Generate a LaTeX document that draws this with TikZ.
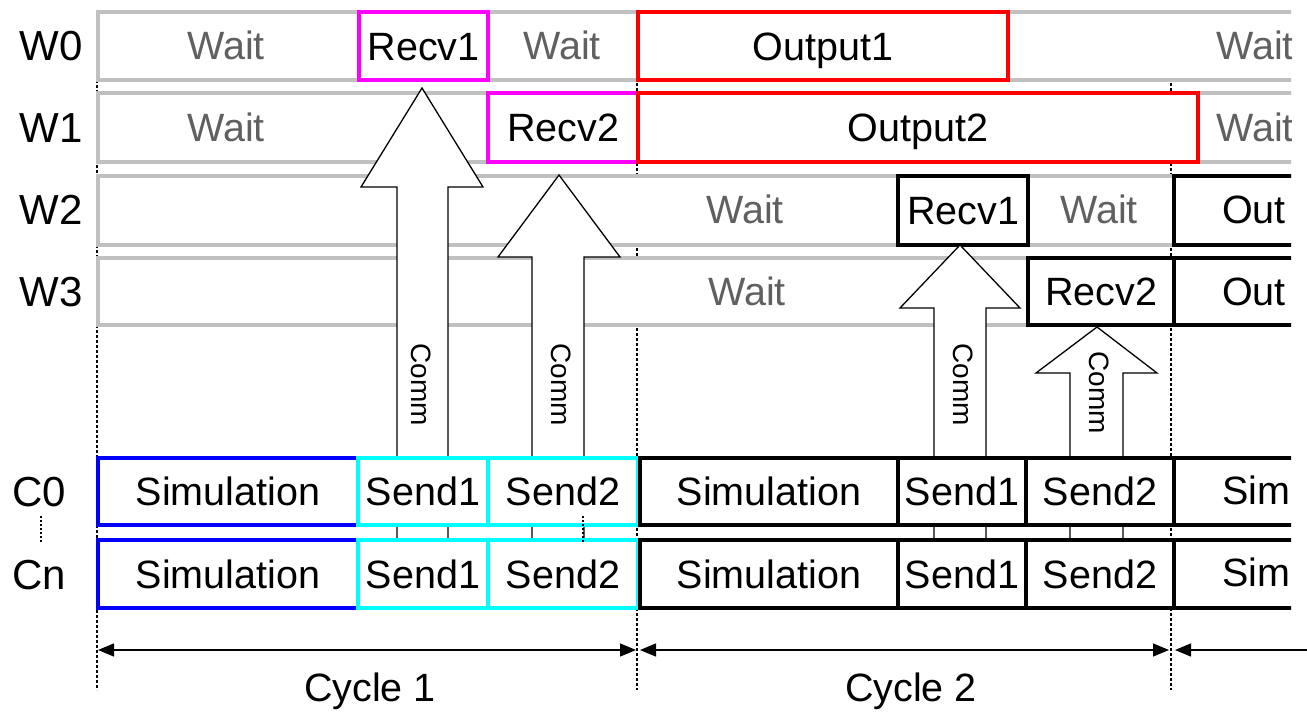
\documentclass[tikz,border=0pt]{standalone}
\usepackage{fontspec}
\setmainfont{Liberation Sans}
\usetikzlibrary{arrows.meta}
\definecolor{rowgray}{HTML}{C0C0C0}
\definecolor{waitgray}{HTML}{606060}
\definecolor{mag}{HTML}{FF00FF}
\definecolor{redc}{HTML}{FF0000}
\definecolor{bluec}{HTML}{0000FF}
\definecolor{cyanc}{HTML}{00FFFF}
\newcommand{\tlbox}[7]{\node[box,#2,minimum width={#5pt-#3pt},minimum height={#6pt-#4pt}] (#1) at (#3,#4) {#7};}
\tikzset{
  txt/.style={font=\fontsize{39.5}{42}\selectfont, text height=28.3pt, text depth=0pt},
  box/.style={draw, line width=4pt, fill=white, inner sep=0pt, anchor=north west, txt},
  rowbox/.style={draw=rowgray},
  recvbox/.style={draw=mag},
  outbox/.style={draw=redc},
  simbox/.style={draw=bluec},
  sendbox/.style={draw=cyanc},
  blkbox/.style={draw=black},
  wt/.style={text=waitgray, txt, inner sep=0pt},
  cut/.style={anchor=west, inner sep=0pt, txt},
  lbl/.style={font=\fontsize{42}{44}\selectfont, text height=30pt, text depth=0pt, inner sep=0pt},
  cyc/.style={txt, inner sep=0pt},
  comm/.style={font=\fontsize{28}{30}\selectfont, text height=20pt, text depth=0pt, rotate=-90, inner sep=0pt},
  blockarrow/.style={draw=black, fill=white, line width=1.3pt, line join=miter},
  vdot/.style={draw=black, line width=2.5pt, dash pattern=on 2.5pt off 2.5pt},
  sdot/.style={draw=black, line width=1.5pt, dash pattern=on 2pt off 2pt},
  dimarrow/.style={draw=black, line width=1.3pt, {Triangle[length=16pt,width=13pt]}-{Triangle[length=16pt,width=13pt]}},
  leftarrow/.style={draw=black, line width=1.3pt, {Triangle[length=16pt,width=13pt]}-},
}
\begin{document}
\begin{tikzpicture}[x=1pt,y=-1pt]
\useasboundingbox (0,0) rectangle (1307,712);
% dotted cycle boundaries
\coordinate (d0t) at (97,10);   \coordinate (d0b) at (97,690);
\coordinate (d1t) at (637,78);  \coordinate (d1b) at (637,690);
\coordinate (d2t) at (1171,78); \coordinate (d2b) at (1171,690);
\draw[vdot] (d0t) -- (d0b);
\draw[vdot] (d1t) -- (d1b);
\draw[vdot] (d2t) -- (d2b);
% small dotted marks
\coordinate (m0t) at (41,516); \coordinate (m0b) at (41,543);
\coordinate (m1t) at (583,516); \coordinate (m1b) at (583,543);
\draw[sdot] (m0t) -- (m0b);

\begin{scope}
\clip (0,0) rectangle (1291,712);
% worker rows
\tlbox{w0row}{rowbox}{96}{10}{1320}{78}{}
\tlbox{w1row}{rowbox}{96}{91}{1320}{160}{}
\tlbox{w2row}{rowbox}{96}{174}{1320}{243}{}
\tlbox{w3row}{rowbox}{96}{256}{1320}{323}{}
\node[wt] (w0a) at (226,45) {Wait};
\node[wt] (w0b) at (562,45) {Wait};
\node[wt] (w0c) at (1255,45) {Wait};
\node[wt] (w1a) at (226,127) {Wait};
\node[wt] (w1b) at (1255,127) {Wait};
\node[wt] (w2a) at (745,209) {Wait};
\node[wt] (w2b) at (1099,209) {Wait};
\node[wt] (w3a) at (747,291) {Wait};
% colored worker boxes
\tlbox{recvA}{recvbox}{357}{10}{486}{78}{Recv1}
\tlbox{recvB}{recvbox}{486}{91}{636}{160}{Recv2}
\tlbox{outA}{outbox}{636}{10}{1006}{78}{Output1}
\tlbox{outB}{outbox}{636}{91}{1196}{160}{Output2}
\tlbox{recvC}{blkbox}{896}{174}{1026}{243}{Recv1}
\tlbox{outC}{blkbox}{1172}{174}{1330}{243}{}
\tlbox{recvD}{blkbox}{1026}{256}{1172}{323}{Recv2}
\tlbox{outD}{blkbox}{1172}{256}{1330}{323}{}
\node[cut] (outCt) at (1222,209) {Out};
\node[cut] (outDt) at (1222,291) {Out};
\end{scope}

% block arrows (Comm)
\draw[blockarrow] (397,548) -- (397,187) -- (361,187) -- (422,88) -- (483,187) -- (448,187) -- (448,548) -- cycle;
\draw[blockarrow] (532,548) -- (532,257) -- (498,257) -- (559,175) -- (620,257) -- (584,257) -- (584,548) -- cycle;
\draw[blockarrow] (934,548) -- (934,308) -- (900,308) -- (960,245) -- (1020,308) -- (986,308) -- (986,548) -- cycle;
\draw[blockarrow] (1070,548) -- (1070,373) -- (1036,373) -- (1097,327) -- (1157,373) -- (1123,373) -- (1123,548) -- cycle;
\node[comm] (cm1) at (421,385) {Comm};
\node[comm] (cm2) at (561,385) {Comm};
\node[comm] (cm3) at (963,385) {Comm};
\node[comm] (cm4) at (1099,393) {Comm};

\begin{scope}
\clip (0,0) rectangle (1291,712);
% compute rows
\tlbox{simA0}{simbox}{96}{456}{356}{523}{Simulation}
\tlbox{sndA0}{sendbox}{356}{456}{486}{523}{Send1}
\tlbox{sndB0}{sendbox}{486}{456}{636}{523}{Send2}
\tlbox{simB0}{blkbox}{638}{456}{896}{523}{Simulation}
\tlbox{sndC0}{blkbox}{896}{456}{1024}{523}{Send1}
\tlbox{sndD0}{blkbox}{1024}{456}{1172}{523}{Send2}
\tlbox{simC0}{blkbox}{1172}{456}{1330}{523}{}
\tlbox{simAn}{simbox}{96}{538}{356}{606}{Simulation}
\tlbox{sndAn}{sendbox}{356}{538}{486}{606}{Send1}
\tlbox{sndBn}{sendbox}{486}{538}{636}{606}{Send2}
\tlbox{simBn}{blkbox}{638}{538}{896}{606}{Simulation}
\tlbox{sndCn}{blkbox}{896}{538}{1024}{606}{Send1}
\tlbox{sndDn}{blkbox}{1024}{538}{1172}{606}{Send2}
\tlbox{simCn}{blkbox}{1172}{538}{1330}{606}{}
\node[cut] (simC0t) at (1222,490) {Sim};
\node[cut] (simCnt) at (1222,572) {Sim};
\end{scope}
\draw[sdot] (m1t) -- (m1b);

% row labels
\node[lbl] (lw0) at (51,45) {W0};
\node[lbl] (lw1) at (51,127) {W1};
\node[lbl] (lw2) at (51,209) {W2};
\node[lbl] (lw3) at (51,291) {W3};
\node[lbl] (lc0) at (39,491) {C0};
\node[lbl] (lcn) at (39,574) {Cn};

% cycle dimension arrows
\coordinate (c0) at (98,650);
\coordinate (c1l) at (636,650);
\coordinate (c1r) at (640,650);
\coordinate (c2l) at (1169,650);
\coordinate (c2r) at (1175,650);
\coordinate (c3) at (1310,650);
\draw[dimarrow] (c0) -- (c1l);
\draw[dimarrow] (c1r) -- (c2l);
\draw[leftarrow] (c2r) -- (c3);
\node[cyc] (cy1) at (370,687) {Cycle 1};
\node[cyc] (cy2) at (911,687) {Cycle 2};
\end{tikzpicture}
\end{document}
